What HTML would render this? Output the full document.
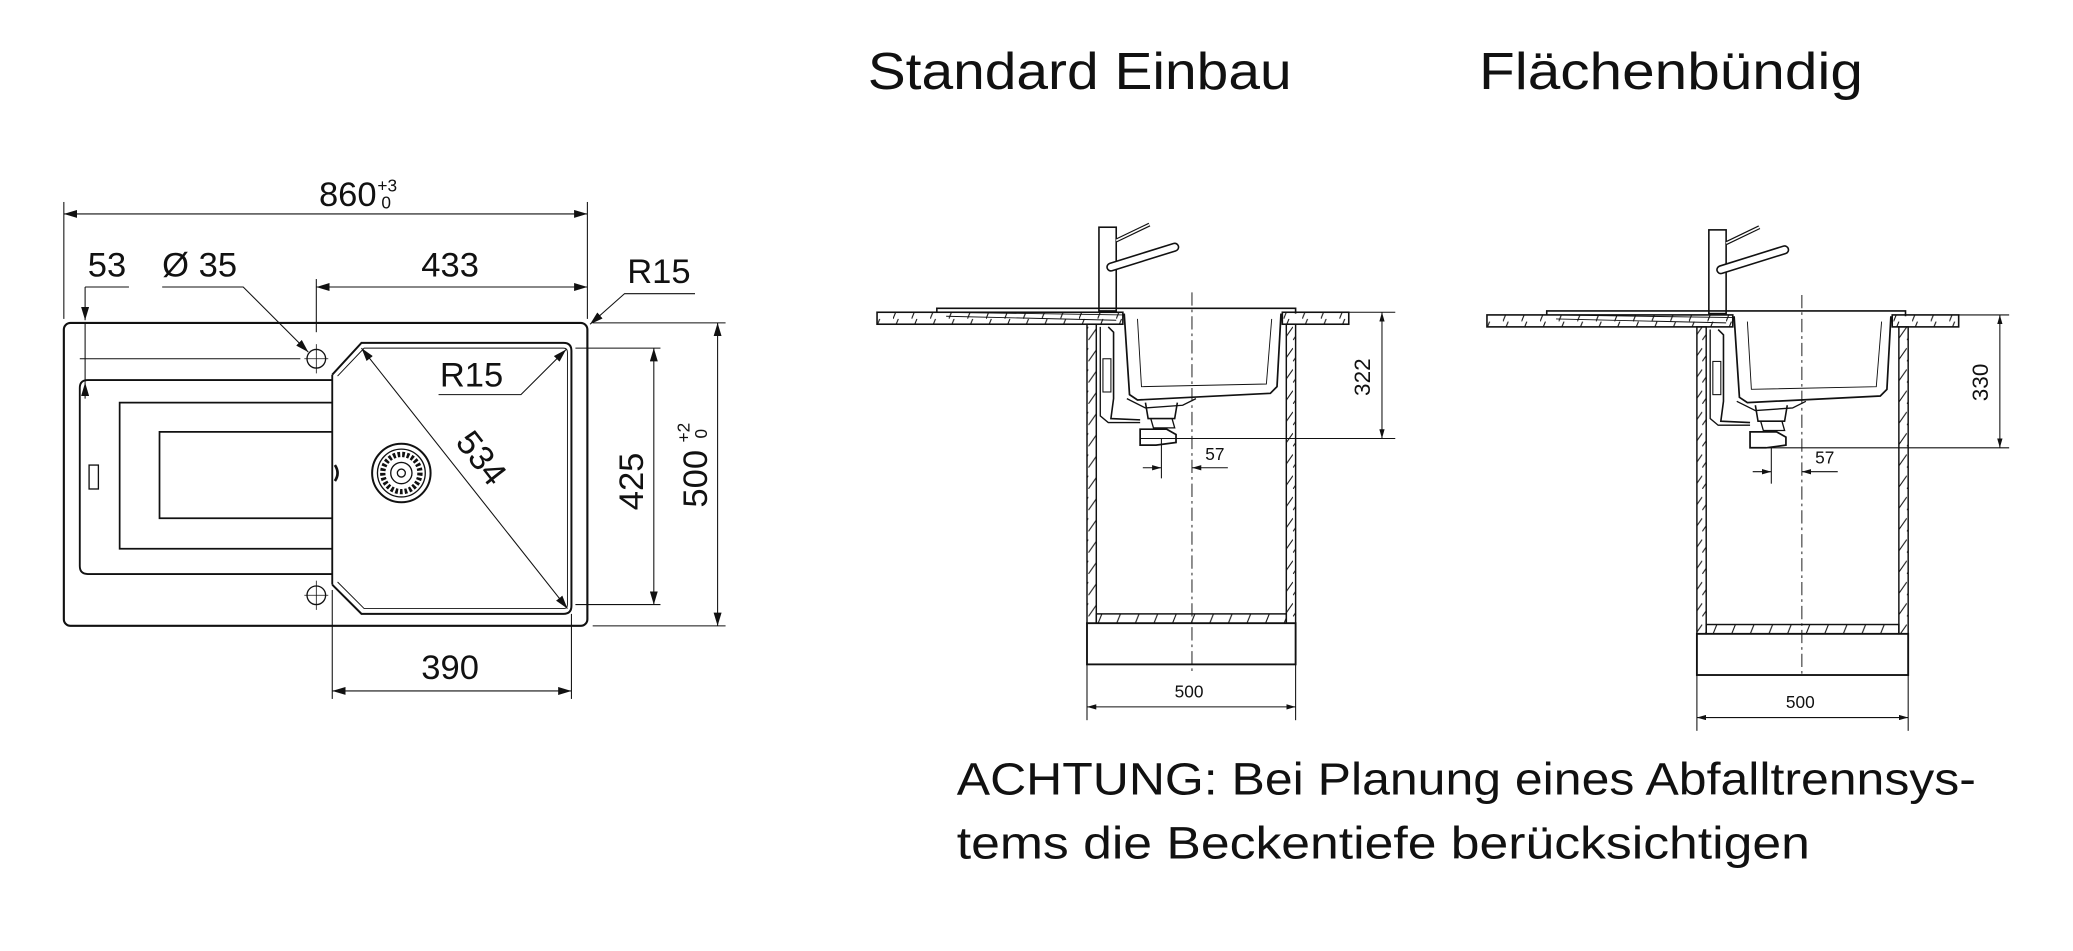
<!DOCTYPE html>
<html><head><meta charset="utf-8"><style>
html,body{margin:0;padding:0;background:#fff;}
svg{display:block}
.d{font-family:"Liberation Sans Narrow","Liberation Sans",sans-serif;fill:#111}
.t{font-family:"Liberation Sans",sans-serif;fill:#111}
</style></head><body>
<svg width="2073" height="951" viewBox="0 0 1560 715.7" xmlns="http://www.w3.org/2000/svg">
<defs>
<marker id="a" viewBox="0 0 10 6" refX="10" refY="3" markerWidth="10" markerHeight="6" orient="auto-start-reverse" markerUnits="userSpaceOnUse"><path d="M0,0L10,3L0,6z" fill="#111"/></marker>
<marker id="s" viewBox="0 0 7 4" refX="7" refY="2" markerWidth="7" markerHeight="4" orient="auto-start-reverse" markerUnits="userSpaceOnUse"><path d="M0,0L7,2L0,4z" fill="#111"/></marker>
<pattern id="h" width="14" height="10" patternUnits="userSpaceOnUse"><line x1="0" y1="10" x2="4" y2="0" stroke="#111" stroke-width="0.8"/></pattern>
<pattern id="hv" width="7" height="16" patternUnits="userSpaceOnUse"><line x1="0" y1="16" x2="7" y2="6" stroke="#111" stroke-width="0.8"/></pattern>
</defs>

<!-- ===== LEFT TOP VIEW ===== -->
<g fill="none" stroke="#111" stroke-width="1">
<rect x="48" y="243" width="394" height="228" rx="5" stroke-width="1.6"/>
<path d="M250,286 L66,286 Q60,286 60,292 L60,426 Q60,432 66,432 L250,432" stroke-width="1.4"/>
<path d="M250,303 L90,303 L90,413 L250,413" stroke-width="1.3"/>
<path d="M250,325 L120,325 L120,390 L250,390" stroke-width="1.3"/>
<rect x="67" y="350" width="7" height="18" stroke-width="1"/>
<line x1="250" y1="282" x2="250" y2="440" stroke-width="1.4"/>
<path d="M250,282 L272,258 L424,258 Q430,258 430,264 L430,456 Q430,462 424,462 L272,462 L250,440" stroke-width="1.5"/>
<path d="M254,283 L274,262 L424,262 Q427,262 427,265 L427,455 Q427,458 424,458 L274,458 L254,438" stroke-width="0.7"/>
<circle cx="238" cy="270" r="7"/><line x1="229" y1="270" x2="247" y2="270" stroke-width="0.6"/><line x1="238" y1="259" x2="238" y2="281" stroke-width="0.6"/>
<circle cx="238" cy="448" r="7"/><line x1="229" y1="448" x2="247" y2="448" stroke-width="0.6"/><line x1="238" y1="437" x2="238" y2="459" stroke-width="0.6"/>
<circle cx="302" cy="356" r="22" stroke-width="1.5"/><circle cx="302" cy="356" r="18"/><circle cx="302" cy="356" r="14" stroke-dasharray="2 1.5" stroke-width="4"/><circle cx="302" cy="356" r="8"/><circle cx="302" cy="356" r="3"/>
<path d="M252,350 q4,6 0,12" stroke-width="2"/>
<g stroke-width="0.8">
<line x1="48" y1="152" x2="48" y2="240"/><line x1="442" y1="152" x2="442" y2="240"/>
<line x1="48" y1="161" x2="442" y2="161" marker-start="url(#a)" marker-end="url(#a)"/>
<line x1="238" y1="210" x2="238" y2="250"/>
<line x1="238" y1="216" x2="442" y2="216" marker-start="url(#a)" marker-end="url(#a)"/>
<line x1="64" y1="216" x2="97" y2="216"/>
<line x1="64" y1="216" x2="64" y2="241" marker-end="url(#a)"/>
<line x1="64" y1="300" x2="64" y2="288" marker-end="url(#a)"/>
<line x1="64" y1="243" x2="64" y2="288"/>
<line x1="60" y1="270" x2="226" y2="270"/>
<path d="M122,216 L183,216 L232,265" marker-end="url(#a)"/>
<path d="M523,221 L470,221 L444,244" marker-end="url(#a)"/>
<path d="M330,297 L392,297 L426,263" marker-end="url(#a)"/>
<line x1="272" y1="262" x2="427" y2="458" marker-start="url(#a)" marker-end="url(#a)"/>
<line x1="433" y1="262" x2="497" y2="262"/><line x1="433" y1="455" x2="497" y2="455"/>
<line x1="492" y1="262" x2="492" y2="455" marker-start="url(#a)" marker-end="url(#a)"/>
<line x1="446" y1="243" x2="546" y2="243"/><line x1="446" y1="471" x2="546" y2="471"/>
<line x1="540" y1="243" x2="540" y2="471" marker-start="url(#a)" marker-end="url(#a)"/>
<line x1="250" y1="444" x2="250" y2="526"/><line x1="430" y1="462" x2="430" y2="526"/>
<line x1="250" y1="520" x2="430" y2="520" marker-start="url(#a)" marker-end="url(#a)"/>
</g></g>
<g class="d" font-size="26">
<text x="240" y="155">860</text><text x="284" y="144" font-size="13">+3</text><text x="287" y="157" font-size="13">0</text>
<text x="66" y="208">53</text>
<text x="122" y="208">Ø 35</text>
<text x="317" y="208">433</text>
<text x="472" y="213">R15</text>
<text x="331" y="291">R15</text>
<text x="0" y="0" transform="translate(342,333) rotate(52)">534</text>
<text x="0" y="0" transform="translate(484,384) rotate(-90)">425</text>
<text x="0" y="0" transform="translate(532,382) rotate(-90)">500</text>
<text x="0" y="0" font-size="13" transform="translate(519,333) rotate(-90)">+2</text>
<text x="0" y="0" font-size="13" transform="translate(532,330) rotate(-90)">0</text>
<text x="317" y="511">390</text>
</g>

<text class="t" x="653" y="67" font-size="39" textLength="319" lengthAdjust="spacingAndGlyphs">Standard Einbau</text>
<text class="t" x="1113" y="67" font-size="39" textLength="289" lengthAdjust="spacingAndGlyphs">Flächenbündig</text>

<g id="sv" fill="none" stroke="#111" stroke-width="1">
<rect x="660" y="235" width="185" height="9" fill="url(#h)" stroke-width="1.2"/>
<rect x="965" y="235" width="50" height="9" fill="url(#h)" stroke-width="1.2"/>
<path d="M705,235 L705,232 L975,232 L975,236" stroke-width="1.2"/>
<path d="M710,235 L845,237 M712,238 L840,241" stroke-width="0.7"/>
<rect x="827" y="171" width="13" height="63" stroke-width="1.2"/>
<line x1="840" y1="181" x2="865" y2="169" stroke-width="3"/><line x1="840" y1="181" x2="865" y2="169" stroke="#fff" stroke-width="1.2"/>
<line x1="836" y1="201" x2="884" y2="186" stroke-width="7" stroke-linecap="round"/><line x1="836" y1="201" x2="884" y2="186" stroke="#fff" stroke-width="4.6" stroke-linecap="round"/>
<path d="M846,236 L850,297 L856,301 L956,296 L961,291 L964,236" stroke-width="1.3"/>
<path d="M856,240 L859,291 L953,289 L957,240" stroke-width="0.7"/>
<path d="M848,300 L862,307 L890,305 L900,300" stroke-width="1"/>
<path d="M862,303 L864,315 L884,315 L886,303" stroke-width="1.2"/>
<path d="M866,315 L868,322 L884,322 L882,315" stroke-width="1"/>
<path d="M858,323 L878,323 L885,327 L885,333 L870,335 L858,335 Z" stroke-width="1.3"/>
<path d="M834,246 L838,250 L838,300 L836,315 L858,316" stroke-width="1.2"/>
<path d="M828,246 L828,313 L834,318 L858,318" stroke-width="1"/>
<rect x="830" y="270" width="6" height="25" stroke-width="0.8"/>
<line x1="897" y1="220" x2="897" y2="505" stroke-width="0.7" stroke-dasharray="10 3 2 3"/>
</g>

<g fill="none" stroke="#111">
<rect x="818" y="244" width="7" height="225" fill="url(#hv)" stroke-width="1.1"/>
<rect x="968" y="244" width="7" height="225" fill="url(#hv)" stroke-width="1.1"/>
<rect x="825" y="462" width="143" height="7" fill="url(#h)" stroke-width="1.1"/>
<rect x="818" y="469" width="157" height="31" stroke-width="1.4"/>
<g stroke-width="0.8">
<line x1="818" y1="500" x2="818" y2="542"/><line x1="975" y1="500" x2="975" y2="542"/>
<line x1="818" y1="532" x2="975" y2="532" marker-start="url(#s)" marker-end="url(#s)"/>
<line x1="1015" y1="235" x2="1050" y2="235"/><line x1="858" y1="330" x2="1050" y2="330"/>
<line x1="1040" y1="235" x2="1040" y2="330" marker-start="url(#s)" marker-end="url(#s)"/>
<line x1="874" y1="330" x2="874" y2="360"/>
<line x1="860" y1="352" x2="874" y2="352" marker-end="url(#s)"/>
<line x1="924" y1="352" x2="897" y2="352" marker-end="url(#s)"/>
</g></g>
<g class="d" font-size="13">
<text x="884" y="525">500</text>
<text x="907" y="346">57</text>
<text x="0" y="0" font-size="17" transform="translate(1031,298) rotate(-90)">322</text>
</g>

<use href="#sv" transform="translate(459,2)"/>
<g fill="none" stroke="#111">
<rect x="1277" y="246" width="7" height="231" fill="url(#hv)" stroke-width="1.1"/>
<rect x="1429" y="246" width="7" height="231" fill="url(#hv)" stroke-width="1.1"/>
<rect x="1284" y="470" width="145" height="7" fill="url(#h)" stroke-width="1.1"/>
<rect x="1277" y="477" width="159" height="31" stroke-width="1.4"/>
<g stroke-width="0.8">
<line x1="1277" y1="508" x2="1277" y2="550"/><line x1="1436" y1="508" x2="1436" y2="550"/>
<line x1="1277" y1="540" x2="1436" y2="540" marker-start="url(#s)" marker-end="url(#s)"/>
<line x1="1474" y1="237" x2="1512" y2="237"/><line x1="1317" y1="337" x2="1512" y2="337"/>
<line x1="1505" y1="237" x2="1505" y2="337" marker-start="url(#s)" marker-end="url(#s)"/>
<line x1="1333" y1="337" x2="1333" y2="364"/>
<line x1="1319" y1="355" x2="1333" y2="355" marker-end="url(#s)"/>
<line x1="1383" y1="355" x2="1356" y2="355" marker-end="url(#s)"/>
</g></g>
<g class="d" font-size="13">
<text x="1344" y="533">500</text>
<text x="1366" y="349">57</text>
<text x="0" y="0" font-size="17" transform="translate(1496,302) rotate(-90)">330</text>
</g>

<text class="t" x="720" y="598" font-size="34" textLength="767" lengthAdjust="spacingAndGlyphs">ACHTUNG: Bei Planung eines Abfalltrennsys-</text>
<text class="t" x="720" y="646" font-size="34" textLength="642" lengthAdjust="spacingAndGlyphs">tems die Beckentiefe berücksichtigen</text>
</svg>
</body></html>
